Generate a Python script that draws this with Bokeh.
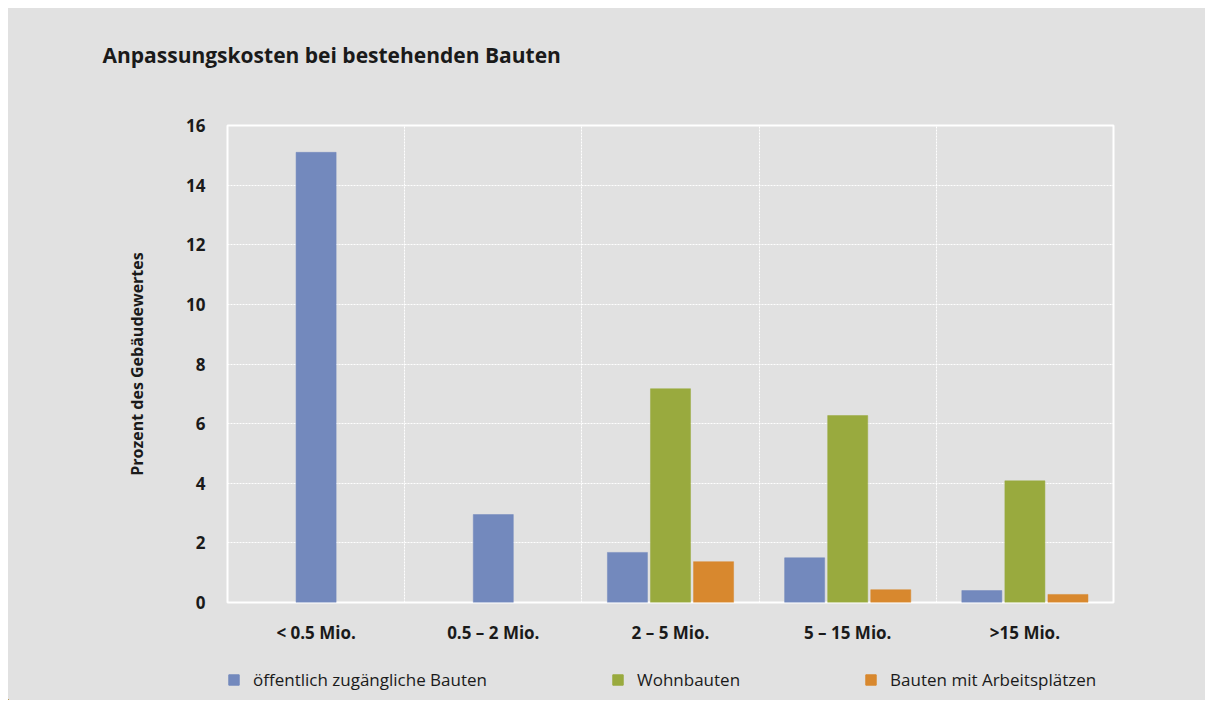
from bokeh.plotting import figure
from bokeh.layouts import column
from bokeh.models import FixedTicker, Legend, LegendItem, Range1d, Label
from bokeh.embed import file_html
from bokeh.resources import INLINE

categories = ["< 0.5 Mio.", "0.5 – 2 Mio.", "2 – 5 Mio.", "5 – 15 Mio.", ">15 Mio."]
oeffentlich = [15.1, 2.95, 1.68, 1.5, 0.4]
wohnbauten = [None, None, 7.17, 6.27, 4.08]
arbeitsplaetze = [None, None, 1.37, 0.43, 0.27]
series_names = ["öffentlich zugängliche Bauten", "Wohnbauten", "Bauten mit Arbeitsplätzen"]
series_values = [oeffentlich, wohnbauten, arbeitsplaetze]
colors = ["#7389bd", "#99aa3e", "#d8882e"]
y_ticks = [0, 2, 4, 6, 8, 10, 12, 14, 16]
title_text = "Anpassungskosten bei bestehenden Bauten"
y_label = "Prozent des Gebäudewertes"

FONT = "Open Sans"
BG = "#e1e1e1"
TXT = "#1a1a1a"
BAR_W = 0.226
STEP = 0.243
W = 1197


def blank(height):
    f = figure(width=W, height=height, output_backend="svg", toolbar_location=None,
               x_axis_location=None, y_axis_location=None, title=None,
               x_range=Range1d(0, W), y_range=Range1d(0, height),
               min_border=0, min_border_left=0, min_border_right=0,
               min_border_top=0, min_border_bottom=0)
    f.frame_align = False
    f.background_fill_color = BG
    f.border_fill_color = BG
    f.outline_line_color = None
    f.xgrid.visible = False
    f.ygrid.visible = False
    return f


# ---- title strip ----
top = blank(102)
top.add_layout(Label(x=94, y=56, text=title_text, text_font=FONT, text_font_style="bold",
                     text_font_size="21px", text_color=TXT, text_baseline="alphabetic",
                     text_align="left"))

# ---- main chart ----
p = figure(width=W, height=536, output_backend="svg", toolbar_location=None, title=None,
           x_range=Range1d(0, len(categories)), y_range=Range1d(0, 16),
           min_border_left=219, min_border_right=92, min_border_top=15, min_border_bottom=41)
p.frame_align = False
p.background_fill_color = BG
p.border_fill_color = BG
p.outline_line_color = "white"
p.outline_line_width = 2

# bar positions: bars present in a category are grouped around its centre
xs = [[], [], []]
tops = [[], [], []]
for i in range(len(categories)):
    present = [s for s in range(3) if series_values[s][i] is not None]
    n = len(present)
    for k, s in enumerate(present):
        xs[s].append(i + 0.5 + (k - (n - 1) / 2) * STEP)
        tops[s].append(series_values[s][i])

for s in range(3):
    p.vbar(x=xs[s], top=tops[s], width=BAR_W, bottom=0,
           fill_color=colors[s], line_color=colors[s], line_width=0.5)

p.yaxis.ticker = FixedTicker(ticks=y_ticks)
p.yaxis.axis_line_color = None
p.yaxis.major_tick_line_color = None
p.yaxis.minor_tick_line_color = None
p.yaxis.major_label_standoff = 16
p.yaxis.major_label_text_font = FONT
p.yaxis.major_label_text_font_style = "bold"
p.yaxis.major_label_text_font_size = "17px"
p.yaxis.major_label_text_color = TXT
p.yaxis.axis_label = y_label
p.yaxis.axis_label_text_font = FONT
p.yaxis.axis_label_text_font_style = "bold"
p.yaxis.axis_label_text_font_size = "16px"
p.yaxis.axis_label_text_color = TXT
p.yaxis.axis_label_standoff = 35

centers = [i + 0.5 for i in range(len(categories))]
p.xaxis.ticker = FixedTicker(ticks=centers)
p.xaxis.major_label_overrides = {c: lab for c, lab in zip(centers, categories)}
p.xaxis.axis_line_color = None
p.xaxis.major_tick_line_color = None
p.xaxis.minor_tick_line_color = None
p.xaxis.major_label_standoff = 12
p.xaxis.major_label_text_font = FONT
p.xaxis.major_label_text_font_style = "bold"
p.xaxis.major_label_text_font_size = "17px"
p.xaxis.major_label_text_color = TXT

p.ygrid.ticker = FixedTicker(ticks=y_ticks[1:-1])
p.ygrid.grid_line_color = "white"
p.ygrid.grid_line_dash = "2 1"
p.ygrid.grid_line_width = 1
p.xgrid.ticker = FixedTicker(ticks=[i for i in range(1, len(categories))])
p.xgrid.grid_line_color = "white"
p.xgrid.grid_line_dash = "2 1"
p.xgrid.grid_line_width = 1

# ---- legend strip (swatch proxies sit outside the visible range) ----
bot = blank(54)
swatches = [bot.vbar(x=[-W], top=[1], width=1, fill_color=colors[s], line_color=colors[s])
            for s in range(3)]
legend = Legend(items=[LegendItem(label=series_names[s], renderers=[swatches[s]]) for s in range(3)],
                location=(219, 9), orientation="horizontal",
                glyph_width=13, glyph_height=13, label_standoff=13, spacing=124,
                padding=0, margin=0, border_line_alpha=0, background_fill_alpha=0,
                label_text_font=FONT, label_text_font_size="17px", label_text_color=TXT)
bot.add_layout(legend, "center")

layout = column(top, p, bot, spacing=0, margin=(8, 0, 0, 8),
                styles={"background-color": BG})
open("out.html", "w").write(file_html(layout, INLINE))
